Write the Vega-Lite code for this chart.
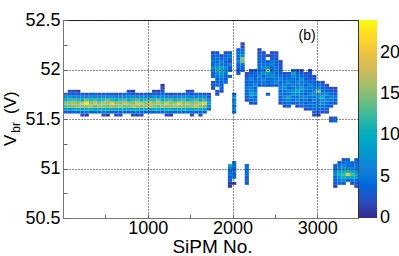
{
  "$schema": "https://vega.github.io/schema/vega-lite/v6.json",
  "width": 295,
  "height": 198,
  "autosize": {"type": "none"},
  "padding": {"left": 63, "top": 20, "right": 41, "bottom": 38},
  "background": "white",
  "config": {
    "font": "Liberation Sans",
    "view": {"stroke": "#333", "strokeWidth": 1},
    "axis": {"domainColor": "#777", "domainWidth": 1, "tickColor": "#666", "labelColor": "#000", "titleColor": "#000"}
  },
  "layer": [
    {
      "data": {"values": [
{"sipm":25,"vbr":51.575,"n":3},{"sipm":25,"vbr":51.605,"n":8},{"sipm":25,"vbr":51.635,"n":13},{"sipm":25,"vbr":51.665,"n":15},{"sipm":25,"vbr":51.695,"n":11},{"sipm":25,"vbr":51.725,"n":7},{"sipm":25,"vbr":51.755,"n":3},
{"sipm":75,"vbr":51.575,"n":2},{"sipm":75,"vbr":51.605,"n":7},{"sipm":75,"vbr":51.635,"n":14},{"sipm":75,"vbr":51.665,"n":16},{"sipm":75,"vbr":51.695,"n":12},{"sipm":75,"vbr":51.725,"n":8},{"sipm":75,"vbr":51.755,"n":4},{"sipm":75,"vbr":51.785,"n":2},
{"sipm":124,"vbr":51.575,"n":4},{"sipm":124,"vbr":51.605,"n":9},{"sipm":124,"vbr":51.635,"n":15},{"sipm":124,"vbr":51.665,"n":17},{"sipm":124,"vbr":51.695,"n":13},{"sipm":124,"vbr":51.725,"n":7},{"sipm":124,"vbr":51.755,"n":4},{"sipm":124,"vbr":51.785,"n":2},
{"sipm":174,"vbr":51.575,"n":3},{"sipm":174,"vbr":51.605,"n":10},{"sipm":174,"vbr":51.635,"n":16},{"sipm":174,"vbr":51.665,"n":15},{"sipm":174,"vbr":51.695,"n":12},{"sipm":174,"vbr":51.725,"n":6},{"sipm":174,"vbr":51.755,"n":3},{"sipm":174,"vbr":51.785,"n":1},
{"sipm":224,"vbr":51.545,"n":2},{"sipm":224,"vbr":51.575,"n":4},{"sipm":224,"vbr":51.605,"n":9},{"sipm":224,"vbr":51.635,"n":15},{"sipm":224,"vbr":51.665,"n":18},{"sipm":224,"vbr":51.695,"n":11},{"sipm":224,"vbr":51.725,"n":7},{"sipm":224,"vbr":51.755,"n":3},
{"sipm":273,"vbr":51.545,"n":1},{"sipm":273,"vbr":51.575,"n":5},{"sipm":273,"vbr":51.605,"n":10},{"sipm":273,"vbr":51.635,"n":16},{"sipm":273,"vbr":51.665,"n":23},{"sipm":273,"vbr":51.695,"n":14},{"sipm":273,"vbr":51.725,"n":6},{"sipm":273,"vbr":51.755,"n":2},
{"sipm":323,"vbr":51.575,"n":4},{"sipm":323,"vbr":51.605,"n":11},{"sipm":323,"vbr":51.635,"n":17},{"sipm":323,"vbr":51.665,"n":15},{"sipm":323,"vbr":51.695,"n":12},{"sipm":323,"vbr":51.725,"n":8},{"sipm":323,"vbr":51.755,"n":3},
{"sipm":373,"vbr":51.575,"n":3},{"sipm":373,"vbr":51.605,"n":9},{"sipm":373,"vbr":51.635,"n":14},{"sipm":373,"vbr":51.665,"n":19},{"sipm":373,"vbr":51.695,"n":13},{"sipm":373,"vbr":51.725,"n":7},{"sipm":373,"vbr":51.755,"n":4},
{"sipm":423,"vbr":51.575,"n":4},{"sipm":423,"vbr":51.605,"n":10},{"sipm":423,"vbr":51.635,"n":16},{"sipm":423,"vbr":51.665,"n":15},{"sipm":423,"vbr":51.695,"n":11},{"sipm":423,"vbr":51.725,"n":6},{"sipm":423,"vbr":51.755,"n":2},
{"sipm":472,"vbr":51.545,"n":2},{"sipm":472,"vbr":51.575,"n":5},{"sipm":472,"vbr":51.605,"n":9},{"sipm":472,"vbr":51.635,"n":15},{"sipm":472,"vbr":51.665,"n":17},{"sipm":472,"vbr":51.695,"n":12},{"sipm":472,"vbr":51.725,"n":7},{"sipm":472,"vbr":51.755,"n":3},
{"sipm":522,"vbr":51.545,"n":1},{"sipm":522,"vbr":51.575,"n":4},{"sipm":522,"vbr":51.605,"n":11},{"sipm":522,"vbr":51.635,"n":14},{"sipm":522,"vbr":51.665,"n":16},{"sipm":522,"vbr":51.695,"n":14},{"sipm":522,"vbr":51.725,"n":6},{"sipm":522,"vbr":51.755,"n":3},
{"sipm":572,"vbr":51.575,"n":3},{"sipm":572,"vbr":51.605,"n":10},{"sipm":572,"vbr":51.635,"n":17},{"sipm":572,"vbr":51.665,"n":20},{"sipm":572,"vbr":51.695,"n":12},{"sipm":572,"vbr":51.725,"n":8},{"sipm":572,"vbr":51.755,"n":3},
{"sipm":621,"vbr":51.545,"n":2},{"sipm":621,"vbr":51.575,"n":4},{"sipm":621,"vbr":51.605,"n":9},{"sipm":621,"vbr":51.635,"n":15},{"sipm":621,"vbr":51.665,"n":16},{"sipm":621,"vbr":51.695,"n":11},{"sipm":621,"vbr":51.725,"n":6},{"sipm":621,"vbr":51.755,"n":2},
{"sipm":671,"vbr":51.545,"n":2},{"sipm":671,"vbr":51.575,"n":3},{"sipm":671,"vbr":51.605,"n":10},{"sipm":671,"vbr":51.635,"n":16},{"sipm":671,"vbr":51.665,"n":15},{"sipm":671,"vbr":51.695,"n":12},{"sipm":671,"vbr":51.725,"n":7},{"sipm":671,"vbr":51.755,"n":3},
{"sipm":721,"vbr":51.575,"n":4},{"sipm":721,"vbr":51.605,"n":11},{"sipm":721,"vbr":51.635,"n":14},{"sipm":721,"vbr":51.665,"n":18},{"sipm":721,"vbr":51.695,"n":13},{"sipm":721,"vbr":51.725,"n":6},{"sipm":721,"vbr":51.755,"n":3},
{"sipm":771,"vbr":51.575,"n":3},{"sipm":771,"vbr":51.605,"n":9},{"sipm":771,"vbr":51.635,"n":15},{"sipm":771,"vbr":51.665,"n":16},{"sipm":771,"vbr":51.695,"n":11},{"sipm":771,"vbr":51.725,"n":7},{"sipm":771,"vbr":51.755,"n":4},{"sipm":771,"vbr":51.785,"n":2},
{"sipm":820,"vbr":51.545,"n":2},{"sipm":820,"vbr":51.575,"n":4},{"sipm":820,"vbr":51.605,"n":10},{"sipm":820,"vbr":51.635,"n":17},{"sipm":820,"vbr":51.665,"n":15},{"sipm":820,"vbr":51.695,"n":12},{"sipm":820,"vbr":51.725,"n":8},{"sipm":820,"vbr":51.755,"n":3},{"sipm":820,"vbr":51.785,"n":1},
{"sipm":870,"vbr":51.545,"n":1},{"sipm":870,"vbr":51.575,"n":5},{"sipm":870,"vbr":51.605,"n":11},{"sipm":870,"vbr":51.635,"n":16},{"sipm":870,"vbr":51.665,"n":19},{"sipm":870,"vbr":51.695,"n":13},{"sipm":870,"vbr":51.725,"n":6},{"sipm":870,"vbr":51.755,"n":3},
{"sipm":920,"vbr":51.545,"n":2},{"sipm":920,"vbr":51.575,"n":4},{"sipm":920,"vbr":51.605,"n":9},{"sipm":920,"vbr":51.635,"n":15},{"sipm":920,"vbr":51.665,"n":17},{"sipm":920,"vbr":51.695,"n":11},{"sipm":920,"vbr":51.725,"n":7},{"sipm":920,"vbr":51.755,"n":2},
{"sipm":969,"vbr":51.575,"n":3},{"sipm":969,"vbr":51.605,"n":10},{"sipm":969,"vbr":51.635,"n":16},{"sipm":969,"vbr":51.665,"n":15},{"sipm":969,"vbr":51.695,"n":12},{"sipm":969,"vbr":51.725,"n":7},{"sipm":969,"vbr":51.755,"n":3},
{"sipm":1019,"vbr":51.575,"n":4},{"sipm":1019,"vbr":51.605,"n":9},{"sipm":1019,"vbr":51.635,"n":17},{"sipm":1019,"vbr":51.665,"n":18},{"sipm":1019,"vbr":51.695,"n":13},{"sipm":1019,"vbr":51.725,"n":6},{"sipm":1019,"vbr":51.755,"n":3},
{"sipm":1069,"vbr":51.575,"n":3},{"sipm":1069,"vbr":51.605,"n":11},{"sipm":1069,"vbr":51.635,"n":15},{"sipm":1069,"vbr":51.665,"n":16},{"sipm":1069,"vbr":51.695,"n":12},{"sipm":1069,"vbr":51.725,"n":8},{"sipm":1069,"vbr":51.755,"n":4},{"sipm":1069,"vbr":51.785,"n":2},
{"sipm":1119,"vbr":51.575,"n":4},{"sipm":1119,"vbr":51.605,"n":10},{"sipm":1119,"vbr":51.635,"n":14},{"sipm":1119,"vbr":51.665,"n":17},{"sipm":1119,"vbr":51.695,"n":14},{"sipm":1119,"vbr":51.725,"n":7},{"sipm":1119,"vbr":51.755,"n":3},{"sipm":1119,"vbr":51.785,"n":1},
{"sipm":1168,"vbr":51.575,"n":3},{"sipm":1168,"vbr":51.605,"n":9},{"sipm":1168,"vbr":51.635,"n":16},{"sipm":1168,"vbr":51.665,"n":15},{"sipm":1168,"vbr":51.695,"n":11},{"sipm":1168,"vbr":51.725,"n":7},{"sipm":1168,"vbr":51.755,"n":4},{"sipm":1168,"vbr":51.785,"n":3},{"sipm":1168,"vbr":51.815,"n":2},{"sipm":1168,"vbr":51.845,"n":1},
{"sipm":1218,"vbr":51.545,"n":2},{"sipm":1218,"vbr":51.575,"n":5},{"sipm":1218,"vbr":51.605,"n":10},{"sipm":1218,"vbr":51.635,"n":15},{"sipm":1218,"vbr":51.665,"n":19},{"sipm":1218,"vbr":51.695,"n":12},{"sipm":1218,"vbr":51.725,"n":6},{"sipm":1218,"vbr":51.755,"n":3},
{"sipm":1268,"vbr":51.545,"n":1},{"sipm":1268,"vbr":51.575,"n":4},{"sipm":1268,"vbr":51.605,"n":11},{"sipm":1268,"vbr":51.635,"n":16},{"sipm":1268,"vbr":51.665,"n":15},{"sipm":1268,"vbr":51.695,"n":13},{"sipm":1268,"vbr":51.725,"n":7},{"sipm":1268,"vbr":51.755,"n":2},
{"sipm":1317,"vbr":51.575,"n":3},{"sipm":1317,"vbr":51.605,"n":9},{"sipm":1317,"vbr":51.635,"n":17},{"sipm":1317,"vbr":51.665,"n":16},{"sipm":1317,"vbr":51.695,"n":11},{"sipm":1317,"vbr":51.725,"n":6},{"sipm":1317,"vbr":51.755,"n":3},
{"sipm":1367,"vbr":51.575,"n":4},{"sipm":1367,"vbr":51.605,"n":10},{"sipm":1367,"vbr":51.635,"n":15},{"sipm":1367,"vbr":51.665,"n":20},{"sipm":1367,"vbr":51.695,"n":12},{"sipm":1367,"vbr":51.725,"n":7},{"sipm":1367,"vbr":51.755,"n":2},
{"sipm":1417,"vbr":51.575,"n":3},{"sipm":1417,"vbr":51.605,"n":11},{"sipm":1417,"vbr":51.635,"n":16},{"sipm":1417,"vbr":51.665,"n":15},{"sipm":1417,"vbr":51.695,"n":13},{"sipm":1417,"vbr":51.725,"n":8},{"sipm":1417,"vbr":51.755,"n":3},
{"sipm":1467,"vbr":51.575,"n":4},{"sipm":1467,"vbr":51.605,"n":9},{"sipm":1467,"vbr":51.635,"n":15},{"sipm":1467,"vbr":51.665,"n":17},{"sipm":1467,"vbr":51.695,"n":11},{"sipm":1467,"vbr":51.725,"n":7},{"sipm":1467,"vbr":51.755,"n":4},{"sipm":1467,"vbr":51.785,"n":2},
{"sipm":1516,"vbr":51.545,"n":2},{"sipm":1516,"vbr":51.575,"n":4},{"sipm":1516,"vbr":51.605,"n":10},{"sipm":1516,"vbr":51.635,"n":16},{"sipm":1516,"vbr":51.665,"n":15},{"sipm":1516,"vbr":51.695,"n":12},{"sipm":1516,"vbr":51.725,"n":6},{"sipm":1516,"vbr":51.755,"n":3},{"sipm":1516,"vbr":51.785,"n":2},
{"sipm":1566,"vbr":51.575,"n":3},{"sipm":1566,"vbr":51.605,"n":11},{"sipm":1566,"vbr":51.635,"n":18},{"sipm":1566,"vbr":51.665,"n":16},{"sipm":1566,"vbr":51.695,"n":13},{"sipm":1566,"vbr":51.725,"n":7},{"sipm":1566,"vbr":51.755,"n":3},
{"sipm":1616,"vbr":51.545,"n":2},{"sipm":1616,"vbr":51.575,"n":4},{"sipm":1616,"vbr":51.605,"n":9},{"sipm":1616,"vbr":51.635,"n":15},{"sipm":1616,"vbr":51.665,"n":17},{"sipm":1616,"vbr":51.695,"n":11},{"sipm":1616,"vbr":51.725,"n":6},{"sipm":1616,"vbr":51.755,"n":3},
{"sipm":1665,"vbr":51.575,"n":3},{"sipm":1665,"vbr":51.605,"n":8},{"sipm":1665,"vbr":51.635,"n":14},{"sipm":1665,"vbr":51.665,"n":21},{"sipm":1665,"vbr":51.695,"n":12},{"sipm":1665,"vbr":51.725,"n":7},{"sipm":1665,"vbr":51.755,"n":3},
{"sipm":1715,"vbr":51.605,"n":4},{"sipm":1715,"vbr":51.635,"n":7},{"sipm":1715,"vbr":51.665,"n":9},{"sipm":1715,"vbr":51.695,"n":6},{"sipm":1715,"vbr":51.725,"n":3},{"sipm":1715,"vbr":51.755,"n":2},
{"sipm":1765,"vbr":52.175,"n":2},{"sipm":1765,"vbr":52.145,"n":3},{"sipm":1765,"vbr":52.115,"n":4},{"sipm":1765,"vbr":52.085,"n":5},{"sipm":1765,"vbr":52.055,"n":3},{"sipm":1765,"vbr":52.025,"n":7},{"sipm":1765,"vbr":51.995,"n":6},{"sipm":1765,"vbr":51.965,"n":4},{"sipm":1765,"vbr":51.935,"n":3},{"sipm":1765,"vbr":51.875,"n":2},{"sipm":1765,"vbr":51.845,"n":3},{"sipm":1765,"vbr":51.815,"n":2},
{"sipm":1815,"vbr":52.175,"n":3},{"sipm":1815,"vbr":52.145,"n":4},{"sipm":1815,"vbr":52.115,"n":5},{"sipm":1815,"vbr":52.085,"n":4},{"sipm":1815,"vbr":52.055,"n":6},{"sipm":1815,"vbr":52.025,"n":8},{"sipm":1815,"vbr":51.995,"n":11},{"sipm":1815,"vbr":51.965,"n":6},{"sipm":1815,"vbr":51.935,"n":5},{"sipm":1815,"vbr":51.905,"n":4},{"sipm":1815,"vbr":51.875,"n":4},{"sipm":1815,"vbr":51.845,"n":5},{"sipm":1815,"vbr":51.785,"n":3},{"sipm":1815,"vbr":51.755,"n":2},
{"sipm":1864,"vbr":52.145,"n":2},{"sipm":1864,"vbr":52.115,"n":3},{"sipm":1864,"vbr":52.085,"n":6},{"sipm":1864,"vbr":52.055,"n":5},{"sipm":1864,"vbr":52.025,"n":9},{"sipm":1864,"vbr":51.995,"n":9},{"sipm":1864,"vbr":51.965,"n":8},{"sipm":1864,"vbr":51.935,"n":6},{"sipm":1864,"vbr":51.905,"n":5},{"sipm":1864,"vbr":51.875,"n":3},{"sipm":1864,"vbr":51.845,"n":4},{"sipm":1864,"vbr":51.815,"n":3},{"sipm":1864,"vbr":51.785,"n":2},
{"sipm":1914,"vbr":52.175,"n":2},{"sipm":1914,"vbr":52.145,"n":4},{"sipm":1914,"vbr":52.115,"n":5},{"sipm":1914,"vbr":52.085,"n":3},{"sipm":1914,"vbr":52.055,"n":4},{"sipm":1914,"vbr":52.025,"n":6},{"sipm":1914,"vbr":51.995,"n":7},{"sipm":1914,"vbr":51.965,"n":5},{"sipm":1914,"vbr":51.935,"n":4},{"sipm":1914,"vbr":51.905,"n":3},{"sipm":1914,"vbr":51.875,"n":5},
{"sipm":1964,"vbr":52.175,"n":3},{"sipm":1964,"vbr":52.145,"n":5},{"sipm":1964,"vbr":52.115,"n":4},{"sipm":1964,"vbr":52.085,"n":2},{"sipm":1964,"vbr":52.055,"n":6},{"sipm":1964,"vbr":52.025,"n":3},{"sipm":1964,"vbr":51.995,"n":4},{"sipm":1964,"vbr":51.935,"n":3},
{"sipm":2063,"vbr":52.205,"n":3},{"sipm":2063,"vbr":52.175,"n":4},{"sipm":2063,"vbr":52.145,"n":5},{"sipm":2063,"vbr":52.115,"n":4},{"sipm":2063,"vbr":52.085,"n":6},{"sipm":2063,"vbr":52.055,"n":3},{"sipm":2063,"vbr":52.025,"n":4},{"sipm":2063,"vbr":51.995,"n":2},{"sipm":2063,"vbr":51.965,"n":3},
{"sipm":2113,"vbr":52.265,"n":2},{"sipm":2113,"vbr":52.235,"n":2},{"sipm":2113,"vbr":52.205,"n":4},{"sipm":2113,"vbr":52.175,"n":5},{"sipm":2113,"vbr":52.145,"n":7},{"sipm":2113,"vbr":52.115,"n":15},{"sipm":2113,"vbr":52.085,"n":14},{"sipm":2113,"vbr":52.055,"n":5},{"sipm":2113,"vbr":52.025,"n":3},{"sipm":2113,"vbr":51.995,"n":4},
{"sipm":2013,"vbr":51.755,"n":3},{"sipm":2013,"vbr":51.725,"n":9},{"sipm":2013,"vbr":51.695,"n":5},{"sipm":2013,"vbr":51.665,"n":6},{"sipm":2013,"vbr":51.635,"n":4},{"sipm":2013,"vbr":51.605,"n":7},{"sipm":2013,"vbr":51.575,"n":3},
{"sipm":2163,"vbr":51.695,"n":2},{"sipm":2163,"vbr":51.725,"n":3},{"sipm":2163,"vbr":51.755,"n":4},{"sipm":2163,"vbr":51.785,"n":3},{"sipm":2163,"vbr":51.815,"n":5},{"sipm":2163,"vbr":51.845,"n":4},{"sipm":2163,"vbr":51.875,"n":3},{"sipm":2163,"vbr":51.905,"n":4},{"sipm":2163,"vbr":51.935,"n":2},{"sipm":2163,"vbr":51.965,"n":2},
{"sipm":2212,"vbr":51.665,"n":3},{"sipm":2212,"vbr":51.695,"n":4},{"sipm":2212,"vbr":51.725,"n":6},{"sipm":2212,"vbr":51.755,"n":9},{"sipm":2212,"vbr":51.785,"n":8},{"sipm":2212,"vbr":51.815,"n":6},{"sipm":2212,"vbr":51.845,"n":5},{"sipm":2212,"vbr":51.875,"n":4},{"sipm":2212,"vbr":51.905,"n":6},{"sipm":2212,"vbr":51.935,"n":5},{"sipm":2212,"vbr":51.965,"n":3},{"sipm":2212,"vbr":51.995,"n":2},
{"sipm":2262,"vbr":51.665,"n":2},{"sipm":2262,"vbr":51.695,"n":5},{"sipm":2262,"vbr":51.725,"n":4},{"sipm":2262,"vbr":51.755,"n":7},{"sipm":2262,"vbr":51.785,"n":5},{"sipm":2262,"vbr":51.815,"n":4},{"sipm":2262,"vbr":51.845,"n":6},{"sipm":2262,"vbr":51.875,"n":5},{"sipm":2262,"vbr":51.905,"n":4},{"sipm":2262,"vbr":51.935,"n":3},{"sipm":2262,"vbr":51.965,"n":4},{"sipm":2262,"vbr":51.995,"n":3},
{"sipm":2312,"vbr":51.845,"n":3},{"sipm":2312,"vbr":51.875,"n":4},{"sipm":2312,"vbr":51.905,"n":5},{"sipm":2312,"vbr":51.935,"n":6},{"sipm":2312,"vbr":51.965,"n":5},{"sipm":2312,"vbr":51.995,"n":4},{"sipm":2312,"vbr":52.025,"n":5},{"sipm":2312,"vbr":52.055,"n":4},{"sipm":2312,"vbr":52.085,"n":3},{"sipm":2312,"vbr":52.115,"n":4},{"sipm":2312,"vbr":52.145,"n":3},{"sipm":2312,"vbr":52.175,"n":2},{"sipm":2312,"vbr":52.205,"n":2},
{"sipm":2361,"vbr":51.845,"n":4},{"sipm":2361,"vbr":51.875,"n":5},{"sipm":2361,"vbr":51.905,"n":6},{"sipm":2361,"vbr":51.935,"n":4},{"sipm":2361,"vbr":51.965,"n":7},{"sipm":2361,"vbr":51.995,"n":5},{"sipm":2361,"vbr":52.025,"n":6},{"sipm":2361,"vbr":52.055,"n":5},{"sipm":2361,"vbr":52.085,"n":4},{"sipm":2361,"vbr":52.115,"n":3},{"sipm":2361,"vbr":52.145,"n":2},{"sipm":2361,"vbr":52.175,"n":3},
{"sipm":2411,"vbr":51.755,"n":3},{"sipm":2411,"vbr":51.845,"n":3},{"sipm":2411,"vbr":51.875,"n":4},{"sipm":2411,"vbr":51.905,"n":5},{"sipm":2411,"vbr":51.935,"n":6},{"sipm":2411,"vbr":51.965,"n":8},{"sipm":2411,"vbr":51.995,"n":16},{"sipm":2411,"vbr":52.025,"n":7},{"sipm":2411,"vbr":52.055,"n":5},{"sipm":2411,"vbr":52.085,"n":3},{"sipm":2411,"vbr":52.145,"n":2},
{"sipm":2461,"vbr":51.845,"n":4},{"sipm":2461,"vbr":51.875,"n":5},{"sipm":2461,"vbr":51.905,"n":4},{"sipm":2461,"vbr":51.935,"n":7},{"sipm":2461,"vbr":51.965,"n":6},{"sipm":2461,"vbr":51.995,"n":5},{"sipm":2461,"vbr":52.025,"n":4},{"sipm":2461,"vbr":52.055,"n":6},{"sipm":2461,"vbr":52.085,"n":5},{"sipm":2461,"vbr":52.115,"n":3},{"sipm":2461,"vbr":52.145,"n":2},{"sipm":2461,"vbr":52.175,"n":2},
{"sipm":2511,"vbr":51.845,"n":3},{"sipm":2511,"vbr":51.875,"n":6},{"sipm":2511,"vbr":51.905,"n":5},{"sipm":2511,"vbr":51.935,"n":5},{"sipm":2511,"vbr":51.965,"n":4},{"sipm":2511,"vbr":51.995,"n":6},{"sipm":2511,"vbr":52.025,"n":5},{"sipm":2511,"vbr":52.055,"n":3},{"sipm":2511,"vbr":52.085,"n":4},{"sipm":2511,"vbr":52.115,"n":2},{"sipm":2511,"vbr":52.145,"n":3},{"sipm":2511,"vbr":52.175,"n":2},
{"sipm":2560,"vbr":51.665,"n":2},{"sipm":2560,"vbr":51.695,"n":3},{"sipm":2560,"vbr":51.725,"n":4},{"sipm":2560,"vbr":51.755,"n":5},{"sipm":2560,"vbr":51.785,"n":4},{"sipm":2560,"vbr":51.815,"n":6},{"sipm":2560,"vbr":51.845,"n":5},{"sipm":2560,"vbr":51.875,"n":4},{"sipm":2560,"vbr":51.905,"n":6},{"sipm":2560,"vbr":51.935,"n":5},{"sipm":2560,"vbr":51.965,"n":3},{"sipm":2560,"vbr":51.995,"n":4},{"sipm":2560,"vbr":52.025,"n":3},{"sipm":2560,"vbr":52.055,"n":2},{"sipm":2560,"vbr":52.085,"n":2},
{"sipm":2610,"vbr":51.635,"n":2},{"sipm":2610,"vbr":51.665,"n":4},{"sipm":2610,"vbr":51.695,"n":5},{"sipm":2610,"vbr":51.725,"n":6},{"sipm":2610,"vbr":51.755,"n":4},{"sipm":2610,"vbr":51.785,"n":5},{"sipm":2610,"vbr":51.815,"n":7},{"sipm":2610,"vbr":51.845,"n":6},{"sipm":2610,"vbr":51.875,"n":5},{"sipm":2610,"vbr":51.905,"n":4},{"sipm":2610,"vbr":51.935,"n":3},{"sipm":2610,"vbr":51.965,"n":2},
{"sipm":2660,"vbr":51.635,"n":3},{"sipm":2660,"vbr":51.665,"n":5},{"sipm":2660,"vbr":51.695,"n":6},{"sipm":2660,"vbr":51.725,"n":9},{"sipm":2660,"vbr":51.755,"n":5},{"sipm":2660,"vbr":51.785,"n":6},{"sipm":2660,"vbr":51.815,"n":4},{"sipm":2660,"vbr":51.845,"n":5},{"sipm":2660,"vbr":51.875,"n":7},{"sipm":2660,"vbr":51.905,"n":5},{"sipm":2660,"vbr":51.935,"n":4},{"sipm":2660,"vbr":51.965,"n":3},
{"sipm":2709,"vbr":51.665,"n":3},{"sipm":2709,"vbr":51.695,"n":4},{"sipm":2709,"vbr":51.725,"n":5},{"sipm":2709,"vbr":51.755,"n":6},{"sipm":2709,"vbr":51.785,"n":8},{"sipm":2709,"vbr":51.815,"n":5},{"sipm":2709,"vbr":51.845,"n":6},{"sipm":2709,"vbr":51.875,"n":4},{"sipm":2709,"vbr":51.905,"n":5},{"sipm":2709,"vbr":51.935,"n":6},{"sipm":2709,"vbr":51.965,"n":9},{"sipm":2709,"vbr":51.995,"n":3},
{"sipm":2759,"vbr":51.635,"n":2},{"sipm":2759,"vbr":51.665,"n":4},{"sipm":2759,"vbr":51.695,"n":6},{"sipm":2759,"vbr":51.725,"n":5},{"sipm":2759,"vbr":51.755,"n":7},{"sipm":2759,"vbr":51.785,"n":10},{"sipm":2759,"vbr":51.815,"n":6},{"sipm":2759,"vbr":51.845,"n":5},{"sipm":2759,"vbr":51.875,"n":6},{"sipm":2759,"vbr":51.905,"n":4},{"sipm":2759,"vbr":51.935,"n":5},{"sipm":2759,"vbr":51.965,"n":4},{"sipm":2759,"vbr":51.995,"n":2},
{"sipm":2809,"vbr":51.635,"n":3},{"sipm":2809,"vbr":51.665,"n":5},{"sipm":2809,"vbr":51.695,"n":4},{"sipm":2809,"vbr":51.725,"n":6},{"sipm":2809,"vbr":51.755,"n":5},{"sipm":2809,"vbr":51.785,"n":7},{"sipm":2809,"vbr":51.815,"n":8},{"sipm":2809,"vbr":51.845,"n":6},{"sipm":2809,"vbr":51.875,"n":5},{"sipm":2809,"vbr":51.905,"n":7},{"sipm":2809,"vbr":51.935,"n":4},{"sipm":2809,"vbr":51.965,"n":3},{"sipm":2809,"vbr":51.995,"n":2},
{"sipm":2859,"vbr":51.605,"n":2},{"sipm":2859,"vbr":51.635,"n":4},{"sipm":2859,"vbr":51.665,"n":3},{"sipm":2859,"vbr":51.695,"n":5},{"sipm":2859,"vbr":51.725,"n":6},{"sipm":2859,"vbr":51.755,"n":4},{"sipm":2859,"vbr":51.785,"n":5},{"sipm":2859,"vbr":51.815,"n":6},{"sipm":2859,"vbr":51.845,"n":4},{"sipm":2859,"vbr":51.875,"n":5},{"sipm":2859,"vbr":51.905,"n":3},{"sipm":2859,"vbr":51.935,"n":4},{"sipm":2859,"vbr":51.965,"n":2},
{"sipm":2908,"vbr":51.605,"n":3},{"sipm":2908,"vbr":51.635,"n":4},{"sipm":2908,"vbr":51.665,"n":5},{"sipm":2908,"vbr":51.695,"n":3},{"sipm":2908,"vbr":51.725,"n":5},{"sipm":2908,"vbr":51.755,"n":6},{"sipm":2908,"vbr":51.785,"n":4},{"sipm":2908,"vbr":51.815,"n":5},{"sipm":2908,"vbr":51.845,"n":6},{"sipm":2908,"vbr":51.875,"n":4},{"sipm":2908,"vbr":51.905,"n":3},{"sipm":2908,"vbr":51.935,"n":2},{"sipm":2908,"vbr":51.965,"n":3},{"sipm":2908,"vbr":51.995,"n":2},
{"sipm":2958,"vbr":51.545,"n":2},{"sipm":2958,"vbr":51.575,"n":3},{"sipm":2958,"vbr":51.605,"n":4},{"sipm":2958,"vbr":51.635,"n":5},{"sipm":2958,"vbr":51.665,"n":4},{"sipm":2958,"vbr":51.695,"n":6},{"sipm":2958,"vbr":51.725,"n":5},{"sipm":2958,"vbr":51.755,"n":7},{"sipm":2958,"vbr":51.785,"n":6},{"sipm":2958,"vbr":51.815,"n":5},{"sipm":2958,"vbr":51.845,"n":4},{"sipm":2958,"vbr":51.875,"n":3},{"sipm":2958,"vbr":51.905,"n":3},{"sipm":2958,"vbr":51.935,"n":2},
{"sipm":3008,"vbr":51.545,"n":1},{"sipm":3008,"vbr":51.575,"n":3},{"sipm":3008,"vbr":51.605,"n":4},{"sipm":3008,"vbr":51.635,"n":5},{"sipm":3008,"vbr":51.665,"n":6},{"sipm":3008,"vbr":51.695,"n":5},{"sipm":3008,"vbr":51.725,"n":8},{"sipm":3008,"vbr":51.755,"n":6},{"sipm":3008,"vbr":51.785,"n":15},{"sipm":3008,"vbr":51.815,"n":7},{"sipm":3008,"vbr":51.845,"n":5},{"sipm":3008,"vbr":51.875,"n":3},
{"sipm":3057,"vbr":51.575,"n":2},{"sipm":3057,"vbr":51.605,"n":4},{"sipm":3057,"vbr":51.635,"n":5},{"sipm":3057,"vbr":51.665,"n":6},{"sipm":3057,"vbr":51.695,"n":7},{"sipm":3057,"vbr":51.725,"n":10},{"sipm":3057,"vbr":51.755,"n":6},{"sipm":3057,"vbr":51.785,"n":5},{"sipm":3057,"vbr":51.815,"n":4},{"sipm":3057,"vbr":51.845,"n":3},{"sipm":3057,"vbr":51.875,"n":2},
{"sipm":3107,"vbr":51.575,"n":2},{"sipm":3107,"vbr":51.605,"n":3},{"sipm":3107,"vbr":51.635,"n":4},{"sipm":3107,"vbr":51.665,"n":5},{"sipm":3107,"vbr":51.695,"n":6},{"sipm":3107,"vbr":51.725,"n":5},{"sipm":3107,"vbr":51.755,"n":7},{"sipm":3107,"vbr":51.785,"n":4},{"sipm":3107,"vbr":51.815,"n":3},{"sipm":3107,"vbr":51.845,"n":2},
{"sipm":3157,"vbr":51.485,"n":3},{"sipm":3157,"vbr":51.515,"n":2},{"sipm":3157,"vbr":51.635,"n":3},{"sipm":3157,"vbr":51.665,"n":4},{"sipm":3157,"vbr":51.695,"n":5},{"sipm":3157,"vbr":51.725,"n":6},{"sipm":3157,"vbr":51.755,"n":4},{"sipm":3157,"vbr":51.785,"n":3},{"sipm":3157,"vbr":51.815,"n":2},
{"sipm":3207,"vbr":51.485,"n":4},{"sipm":3207,"vbr":51.515,"n":3},{"sipm":3207,"vbr":51.665,"n":2},{"sipm":3207,"vbr":51.695,"n":4},{"sipm":3207,"vbr":51.725,"n":5},{"sipm":3207,"vbr":51.755,"n":3},{"sipm":3207,"vbr":51.785,"n":2},{"sipm":3207,"vbr":51.815,"n":2},
{"sipm":1964,"vbr":51.035,"n":9},{"sipm":1964,"vbr":51.005,"n":6},{"sipm":1964,"vbr":50.975,"n":4},{"sipm":1964,"vbr":50.945,"n":5},{"sipm":1964,"vbr":50.915,"n":3},{"sipm":1964,"vbr":50.885,"n":4},{"sipm":1964,"vbr":50.855,"n":1},{"sipm":1964,"vbr":50.825,"n":1},
{"sipm":2013,"vbr":51.065,"n":4},{"sipm":2013,"vbr":51.035,"n":5},{"sipm":2013,"vbr":51.005,"n":4},{"sipm":2013,"vbr":50.975,"n":6},{"sipm":2013,"vbr":50.945,"n":3},{"sipm":2013,"vbr":50.915,"n":5},{"sipm":2013,"vbr":50.855,"n":1},
{"sipm":2163,"vbr":51.035,"n":4},{"sipm":2163,"vbr":51.005,"n":5},{"sipm":2163,"vbr":50.975,"n":4},{"sipm":2163,"vbr":50.945,"n":5},{"sipm":2163,"vbr":50.915,"n":2},{"sipm":2163,"vbr":50.885,"n":4},{"sipm":2163,"vbr":50.855,"n":3},
{"sipm":3207,"vbr":51.035,"n":3},{"sipm":3207,"vbr":51.005,"n":4},{"sipm":3207,"vbr":50.975,"n":5},{"sipm":3207,"vbr":50.945,"n":6},{"sipm":3207,"vbr":50.915,"n":4},{"sipm":3207,"vbr":50.885,"n":3},{"sipm":3207,"vbr":50.855,"n":3},{"sipm":3207,"vbr":50.825,"n":1},
{"sipm":3256,"vbr":51.065,"n":3},{"sipm":3256,"vbr":51.035,"n":5},{"sipm":3256,"vbr":51.005,"n":6},{"sipm":3256,"vbr":50.975,"n":9},{"sipm":3256,"vbr":50.945,"n":11},{"sipm":3256,"vbr":50.915,"n":8},{"sipm":3256,"vbr":50.885,"n":5},{"sipm":3256,"vbr":50.855,"n":4},
{"sipm":3306,"vbr":51.095,"n":2},{"sipm":3306,"vbr":51.065,"n":4},{"sipm":3306,"vbr":51.035,"n":6},{"sipm":3306,"vbr":51.005,"n":8},{"sipm":3306,"vbr":50.975,"n":10},{"sipm":3306,"vbr":50.945,"n":12},{"sipm":3306,"vbr":50.915,"n":10},{"sipm":3306,"vbr":50.885,"n":6},{"sipm":3306,"vbr":50.855,"n":3},
{"sipm":3356,"vbr":51.095,"n":3},{"sipm":3356,"vbr":51.065,"n":5},{"sipm":3356,"vbr":51.035,"n":4},{"sipm":3356,"vbr":51.005,"n":7},{"sipm":3356,"vbr":50.975,"n":11},{"sipm":3356,"vbr":50.945,"n":20},{"sipm":3356,"vbr":50.915,"n":9},{"sipm":3356,"vbr":50.885,"n":4},
{"sipm":3405,"vbr":51.065,"n":4},{"sipm":3405,"vbr":51.035,"n":3},{"sipm":3405,"vbr":51.005,"n":6},{"sipm":3405,"vbr":50.975,"n":9},{"sipm":3405,"vbr":50.945,"n":13},{"sipm":3405,"vbr":50.915,"n":11},{"sipm":3405,"vbr":50.885,"n":5},{"sipm":3405,"vbr":50.855,"n":2},
{"sipm":3455,"vbr":51.095,"n":3},{"sipm":3455,"vbr":51.065,"n":3},{"sipm":3455,"vbr":51.035,"n":5},{"sipm":3455,"vbr":51.005,"n":5},{"sipm":3455,"vbr":50.975,"n":7},{"sipm":3455,"vbr":50.945,"n":9},{"sipm":3455,"vbr":50.915,"n":8},{"sipm":3455,"vbr":50.885,"n":4},{"sipm":3455,"vbr":50.855,"n":3},{"sipm":3455,"vbr":50.825,"n":2}
      ]},
      "mark": {"type": "rect", "binSpacing": 0},
      "encoding": {
        "x": {
          "field": "sipm", "type": "quantitative",
          "bin": {"step": 49.7142857, "extent": [0, 3480], "nice": false},
          "scale": {"domain": [0, 3480]},
          "axis": {
            "title": "SiPM No.",
            "values": [500, 1000, 1500, 2000, 2500, 3000],
            "labelExpr": "datum.value % 1000 === 0 ? format(datum.value, 'd') : ''",
            "labelOverlap": false, "labelFlush": false,
            "labelFontSize": 18, "labelPadding": 5,
            "tickSize": -4, "zindex": 1,
            "grid": true, "gridDash": [1, 2], "gridColor": "#000",
            "gridOpacity": {"condition": {"test": "datum.value % 1000 === 0", "value": 0.9}, "value": 0},
            "titleFontSize": 19, "titleFontWeight": "normal",
            "titleBaseline": "alphabetic", "titleAlign": "center", "titleX": 149, "titleY": 34
          }
        },
        "y": {
          "field": "vbr", "type": "quantitative",
          "bin": {"step": 0.03, "extent": [50.0, 52.52], "nice": false},
          "scale": {"domain": [50.5, 52.5]},
          "axis": {
            "title": null,
            "values": [50.5, 50.75, 51, 51.25, 51.5, 51.75, 52, 52.25, 52.5],
            "labelExpr": "(datum.value * 2) % 1 === 0 ? format(datum.value, '~g') : ''",
            "labelOverlap": false, "labelFlush": false,
            "labelFontSize": 18, "labelPadding": 7,
            "tickSize": -4, "zindex": 1,
            "grid": true, "gridDash": [1, 2], "gridColor": "#000",
            "gridOpacity": {"condition": {"test": "(datum.value * 2) % 1 === 0", "value": 0.9}, "value": 0}
          }
        },
        "color": {
          "field": "n", "type": "quantitative", "aggregate": "sum",
          "scale": {"domain": [-0.02, 24], "range": ["#352a87", "#0f5cdd", "#1481d6", "#06a4ca", "#2eb7a4", "#87bf77", "#d1bb59", "#fec832", "#f9fb0e"]},
          "legend": {
            "title": null, "orient": "right", "offset": 1, "padding": 0,
            "direction": "vertical",
            "gradientLength": 198, "gradientThickness": 18, "gradientStrokeWidth": 0,
            "values": [0, 5, 10, 15, 20], "format": "d",
            "labelFontSize": 18, "labelColor": "#000", "labelOffset": 3, "labelOverlap": false
          }
        }
      }
    },
    {
      "data": {"values": [{"t": "(b)"}]},
      "mark": {"type": "text", "fontSize": 14, "align": "center", "baseline": "middle", "color": "#000"},
      "encoding": {
        "text": {"field": "t"},
        "x": {"datum": 2880, "type": "quantitative", "scale": {"domain": [0, 3480]}},
        "y": {"datum": 52.338, "type": "quantitative", "scale": {"domain": [50.5, 52.5]}}
      }
    },
    {
      "data": {"values": [{"t": "V"}]},
      "mark": {"type": "text", "fontSize": 17, "angle": 270, "align": "left", "baseline": "alphabetic", "color": "#000"},
      "encoding": {
        "text": {"field": "t"},
        "x": {"datum": -554, "type": "quantitative", "scale": {"domain": [0, 3480]}},
        "y": {"datum": 51.227, "type": "quantitative", "scale": {"domain": [50.5, 52.5]}}
      }
    },
    {
      "data": {"values": [{"t": "br"}]},
      "mark": {"type": "text", "fontSize": 12, "angle": 270, "align": "left", "baseline": "alphabetic", "color": "#000"},
      "encoding": {
        "text": {"field": "t"},
        "x": {"datum": -507, "type": "quantitative", "scale": {"domain": [0, 3480]}},
        "y": {"datum": 51.362, "type": "quantitative", "scale": {"domain": [50.5, 52.5]}}
      }
    },
    {
      "data": {"values": [{"t": "(V)"}]},
      "mark": {"type": "text", "fontSize": 17, "angle": 270, "align": "left", "baseline": "alphabetic", "color": "#000"},
      "encoding": {
        "text": {"field": "t"},
        "x": {"datum": -554, "type": "quantitative", "scale": {"domain": [0, 3480]}},
        "y": {"datum": 51.551, "type": "quantitative", "scale": {"domain": [50.5, 52.5]}}
      }
    }
  ]
}
